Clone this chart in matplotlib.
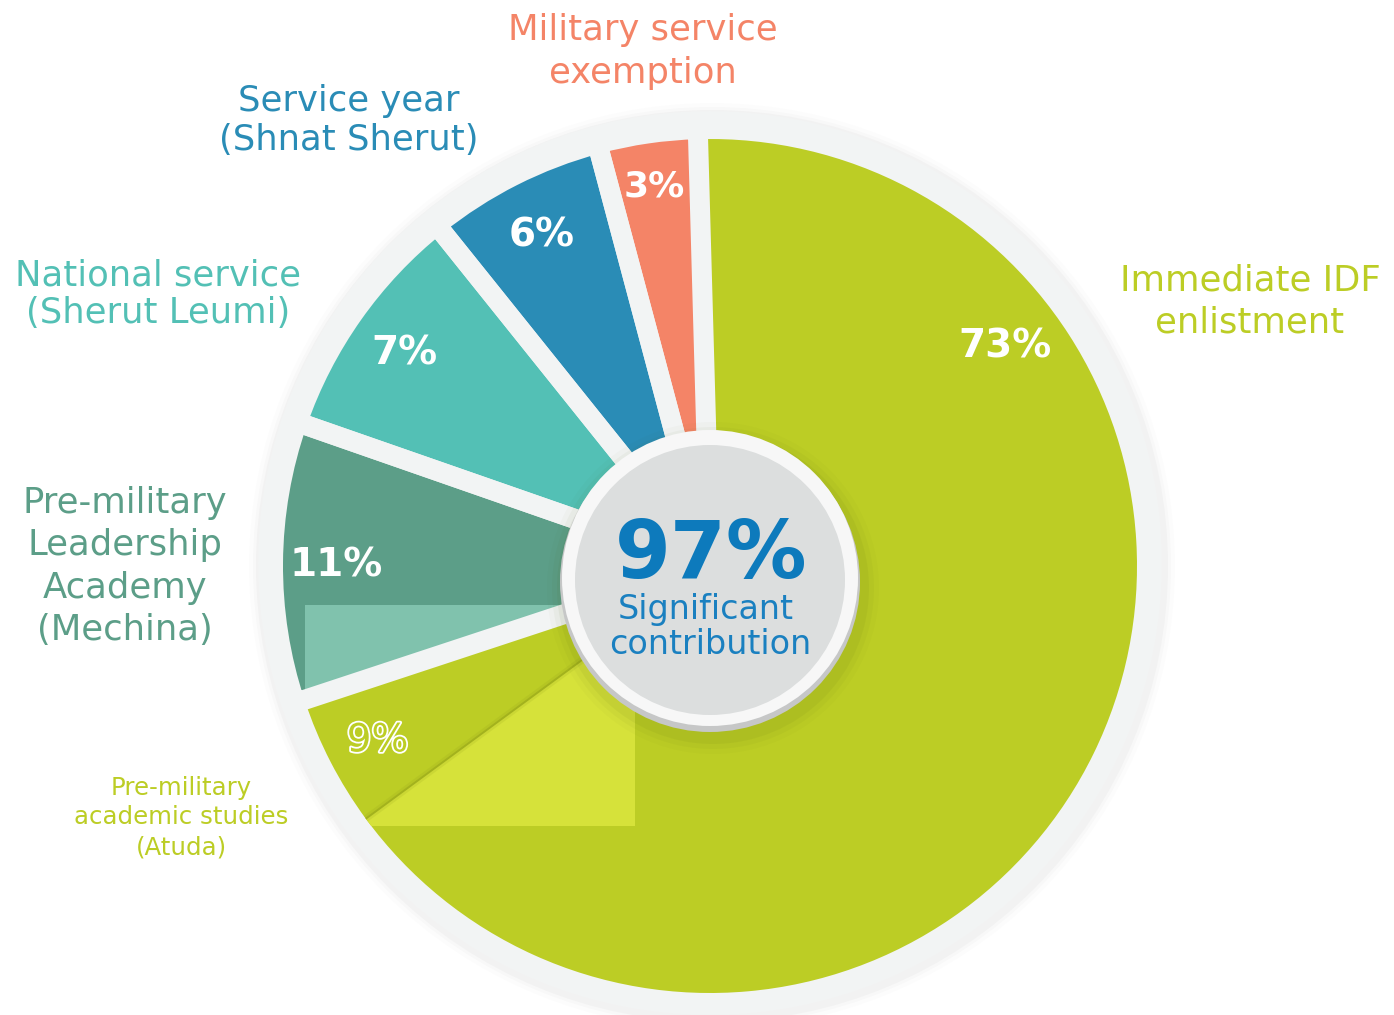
import matplotlib.pyplot as plt
from matplotlib.patches import Circle, Rectangle, Wedge
import matplotlib.patheffects as pe
import numpy as np

# Slices go clockwise from the top.
# The artwork does not draw slices to scale of the printed numbers, so the
# drawn share of each slice is read off the picture separately.
categories = ["Immediate IDF\nenlistment",
              "Pre-military\nacademic studies\n(Atuda)",
              "Pre-military\nLeadership\nAcademy\n(Mechina)",
              "National service\n(Sherut Leumi)",
              "Service year\n(Shnat Sherut)",
              "Military service\nexemption"]
printed_pct = [73, 9, 11, 7, 6, 3]
drawn_share = [65.3, 5.0, 10.4, 8.9, 6.6, 3.7]
slice_colors = ["#bccd25", "#bccd25", "#5c9e88", "#53c0b5", "#2a8cb6", "#f48467"]

center_value = "97%"
center_caption = ["Significant", "contribution"]

W, H = 1394, 1015


def Y(y):
    # picture rows -> axis units (y up)
    return H - y


fig = plt.figure(figsize=(W / 100, H / 100), dpi=100)
ax = fig.add_axes([0, 0, 1, 1])

ring = "#f2f4f4"
gap = 20 * 0.72  # 20 px gap between slices, in points
cx, cy = 710, Y(566)

# light ring with a soft shadow behind the pie
for r, a in [(463, 0.02), (459, 0.03), (456, 0.05)]:
    ax.add_patch(Circle((712, Y(566)), r, color="#8a8a8a", alpha=a, lw=0))
ax.add_patch(Circle((710, Y(563)), 452, color=ring, lw=0))

wedges, _ = ax.pie(drawn_share, colors=slice_colors, startangle=91.6,
                   counterclock=False, radius=437, center=(cx, cy),
                   wedgeprops=dict(linewidth=0))

# the two green slices touch each other, no gap between them
wedges[0].set_radius(427)
wedges[1].set_radius(427)

# lighter band that sits over part of the artwork
for i, c in [(0, "#d6e23a"), (2, "#80c2ad")]:
    band = Rectangle((305, Y(826)), 330, 221, color=c, lw=0, zorder=1.5)
    band.set_clip_path(wedges[i])
    ax.add_patch(band)

# gaps between slices
for w in wedges[2:]:
    ax.add_patch(Wedge(w.center, w.r, w.theta1, w.theta2, fill=False,
                       ec=ring, lw=gap, joinstyle="round", zorder=3))

# thin line between the two green slices
t = np.deg2rad(wedges[1].theta2)
ax.plot([cx + 150 * np.cos(t), cx + 427 * np.cos(t)],
        [cy + 150 * np.sin(t), cy + 427 * np.sin(t)],
        color="#8f9d18", lw=5, alpha=0.15, zorder=2, solid_capstyle="butt")
ax.plot([cx + 150 * np.cos(t), cx + 427 * np.cos(t)],
        [cy + 150 * np.sin(t), cy + 427 * np.sin(t)],
        color="#a3b21d", lw=1.4, zorder=2, solid_capstyle="butt")

# percentage inside each slice
for i, (w, v) in enumerate(zip(wedges, printed_pct)):
    ang = np.deg2rad((w.theta1 + w.theta2) / 2)
    r = 388 if v == 3 else 374
    if i == 0:
        ang, r = np.deg2rad(37), 370
    x = cx + r * np.cos(ang)
    y = cy + r * np.sin(ang) - 14
    if i == 1:
        ax.text(x, y, f"{v}%", ha="center", va="baseline", fontsize=28,
                color=slice_colors[i], zorder=4,
                path_effects=[pe.withStroke(linewidth=2.6, foreground="white")])
    else:
        ax.text(x, y, f"{v}%", ha="center", va="baseline",
                fontsize=26 if v == 3 else 28,
                fontweight="heavy", color="white", zorder=4)

# category names around the pie: (centre x, first baseline, line pitch, size)
label_layout = [(1250, 290, 42, 25.5),
                (181, 795, 29.5, 17.6),
                (125, 513, 42.3, 25.5),
                (158, 285, 38, 25.5),
                (349, 111, 39, 25.5),
                (643, 40, 43, 25.5)]
for name, col, (lx, by, pitch, fs) in zip(categories, slice_colors, label_layout):
    for k, line in enumerate(name.split("\n")):
        ax.text(lx, Y(by + k * pitch), line, ha="center", va="baseline",
                fontsize=fs, color=col)

# centre disc
ccx, ccy = 710, Y(580)
for r, a in [(166, 0.025), (161, 0.04), (156, 0.06)]:
    ax.add_patch(Circle((ccx + 3, ccy - 8), r, color="#4a5a10", alpha=a,
                        lw=0, zorder=5))
ax.add_patch(Circle((ccx, ccy - 2), 150, color="#c6c7c7", lw=0, zorder=5))
ax.add_patch(Circle((ccx, ccy + 2), 148, color="#f7f7f7", lw=0, zorder=5))
ax.add_patch(Circle((ccx, ccy), 135, color="#dcdede", lw=0, zorder=6))

ax.text(711, Y(578), center_value, ha="center", va="baseline", fontsize=58,
        fontweight="bold", color="#0d7abc", zorder=7)
ax.text(706, Y(619), center_caption[0], ha="center", va="baseline",
        fontsize=24, color="#1a80c0", zorder=7)
ax.text(710, Y(654), center_caption[1], ha="center", va="baseline",
        fontsize=24, color="#1a80c0", zorder=7)

ax.set_xlim(0, W)
ax.set_ylim(0, H)
ax.set_aspect("equal")
ax.axis("off")
plt.savefig("out.png", dpi=100)
plt.close(fig)
